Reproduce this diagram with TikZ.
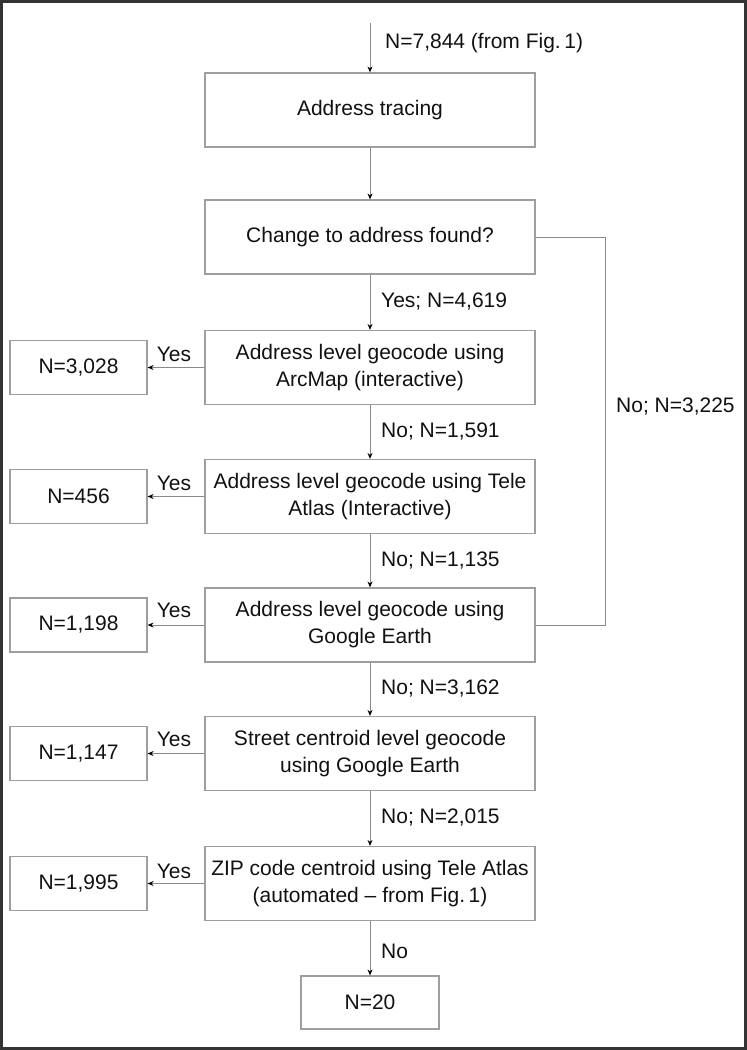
\documentclass[tikz,border=0pt]{standalone}
\usepackage{fontspec}
\setmainfont{Liberation Sans}
\usetikzlibrary{arrows.meta}
\definecolor{linegray}{HTML}{8A8A8A}
\definecolor{boxgray}{HTML}{9E9E9E}
\definecolor{framecol}{HTML}{333333}
\definecolor{txt}{HTML}{111111}
\begin{document}
\begin{tikzpicture}[x=1pt,y=-1pt,
  box/.style={draw=boxgray, line width=1.2pt, minimum width=330pt, minimum height=74pt, inner sep=0pt, align=center, text=txt, font=\fontsize{21}{27}\selectfont},
  sidebox/.style={draw=boxgray, line width=1.2pt, minimum width=137pt, minimum height=54pt, inner sep=0pt, align=center, text=txt, font=\fontsize{21}{27}\selectfont},
  lbl/.style={inner sep=0pt, text=txt, font=\fontsize{21}{27}\selectfont},
  conn/.style={draw=linegray, line width=1pt},
  arr/.style={conn, -{Stealth[length=6pt,width=5pt,color=black]}}
]
\useasboundingbox (0,0) rectangle (747,1050);
\draw[line width=3pt, framecol] (1.5,1.5) rectangle (745.5,1048.5);

% main column
\node[box] (trace)  at (370,110)   {Address tracing};
\node[box] (change) at (370,237)   {Change to address found?};
\node[box] (arc)    at (370,367.5) {Address level geocode using\\ArcMap (interactive)};
\node[box] (tele)   at (370,496.5) {Address level geocode using Tele\\Atlas (Interactive)};
\node[box] (goog)   at (370,625)   {Address level geocode using\\Google Earth};
\node[box] (street) at (370,753.5) {Street centroid level geocode\\using Google Earth};
\node[box] (zip)    at (370,883.5) {ZIP code centroid using Tele Atlas\\(automated -- from Fig.\,1)};
\node[sidebox, minimum width=138pt, minimum height=53pt] (n20) at (370,1002.5) {N=20};

% side boxes
\node[sidebox] (s1) at (78.5,367.5) {N=3,028};
\node[sidebox] (s2) at (78.5,496.5) {N=456};
\node[sidebox] (s3) at (78.5,625)   {N=1,198};
\node[sidebox] (s4) at (78.5,753.5) {N=1,147};
\node[sidebox] (s5) at (78.5,883.5) {N=1,995};

% entry arrow
\coordinate (start) at (370,23);
\draw[arr] (start) -- (trace.north);
\node[lbl, anchor=west] (l0) at (385,43) {N=7,844 (from Fig.\,1)};

% vertical flow
\draw[arr] (trace.south) -- (change.north);
\draw[arr] (change.south) -- (arc.north);
\node[lbl, anchor=west] (l1) at (381,302) {Yes; N=4,619};
\draw[arr] (arc.south) -- (tele.north);
\node[lbl, anchor=west] (l2) at (381,432) {No; N=1,591};
\draw[arr] (tele.south) -- (goog.north);
\node[lbl, anchor=west] (l3) at (381,561) {No; N=1,135};
\draw[arr] (goog.south) -- (street.north);
\node[lbl, anchor=west] (l4) at (381,689) {No; N=3,162};
\draw[arr] (street.south) -- (zip.north);
\node[lbl, anchor=west] (l5) at (381,818) {No; N=2,015};
\draw[arr] (zip.south) -- (n20.north);
\node[lbl, anchor=west] (l6) at (381,951) {No};

% right loop
\coordinate (r1) at (605,237);
\coordinate (r2) at (605,625);
\draw[conn] (change.east) -- (r1) -- (r2) -- (goog.east);
\node[lbl, anchor=west] (l7) at (616,407) {No; N=3,225};

% yes arrows
\draw[arr] (arc.west) -- (s1.east);
\node[lbl] (y1) at (174,354) {Yes};
\draw[arr] (tele.west) -- (s2.east);
\node[lbl] (y2) at (174,483) {Yes};
\draw[arr] (goog.west) -- (s3.east);
\node[lbl] (y3) at (174,610) {Yes};
\draw[arr] (street.west) -- (s4.east);
\node[lbl] (y4) at (174,739) {Yes};
\draw[arr] (zip.west) -- (s5.east);
\node[lbl] (y5) at (174,871) {Yes};
\end{tikzpicture}
\end{document}
